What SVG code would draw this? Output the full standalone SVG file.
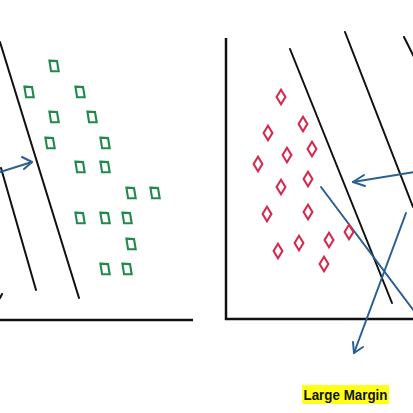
<svg xmlns="http://www.w3.org/2000/svg" xmlns:xlink="http://www.w3.org/1999/xlink" width="413" height="413" viewBox="0 0 413 413">
<style>
.blk{stroke:#111;stroke-width:2;fill:none;stroke-linecap:round}
.axis{stroke:#111;stroke-width:2.5;fill:none}
.blu{stroke:#2a5f93;stroke-width:2;fill:none;stroke-linecap:round;stroke-linejoin:round}
.sq{fill:none;stroke:#1f8a4c;stroke-width:2.1}
.dm{fill:none;stroke:#d42a50;stroke-width:2.1}
.lbl{font-family:"Liberation Sans",Arial,sans-serif;font-weight:bold;font-size:15px;fill:#111}
</style>
<defs>
<path id="sq" d="M-4.6,-5.4 L3,-4.9 L4.7,5.3 L-2.9,5.3 Z"/>
<path id="dm" d="M0,-7.2 L4.4,0 L0,7.2 L-4.4,0 Z"/>
</defs>
<rect width="413" height="413" fill="#fff"/>
<g id="axes">
<line class="axis" x1="0" y1="320" x2="193" y2="320"/>
<line class="axis" x1="226" y1="38" x2="226" y2="320"/>
<line class="axis" x1="225" y1="319" x2="413" y2="319"/>
</g>
<g id="connectors">
<line class="blk" x1="0" y1="42" x2="79" y2="298"/>
<line class="blk" x1="1" y1="168" x2="36" y2="290"/>
<path class="blk" d="M0,298 L2,294"/>
<line class="blk" x1="290" y1="49" x2="392" y2="303"/>
<line class="blk" x1="345" y1="32" x2="413" y2="207"/>
<line class="blk" x1="404" y1="37" x2="414" y2="57"/>
<line class="blu" x1="0" y1="172" x2="32" y2="162"/>
<polyline class="blu" points="22,157 32,162 24,169"/>
<line class="blu" x1="414" y1="172" x2="353" y2="182"/>
<polyline class="blu" points="364,175 353,182 365,186"/>
<line class="blu" x1="406" y1="213" x2="354" y2="353"/>
<polyline class="blu" points="353,342 354,353 363,347"/>
<line class="blu" x1="321" y1="187" x2="414" y2="311"/>
</g>
<g id="class-green">
<use href="#sq" class="sq" x="54" y="66"/>
<use href="#sq" class="sq" x="29" y="92"/>
<use href="#sq" class="sq" x="80" y="92"/>
<use href="#sq" class="sq" x="54" y="117"/>
<use href="#sq" class="sq" x="92" y="117"/>
<use href="#sq" class="sq" x="50" y="143"/>
<use href="#sq" class="sq" x="105" y="143"/>
<use href="#sq" class="sq" x="80" y="167"/>
<use href="#sq" class="sq" x="105" y="167"/>
<use href="#sq" class="sq" x="131" y="193"/>
<use href="#sq" class="sq" x="155" y="193"/>
<use href="#sq" class="sq" x="80" y="218"/>
<use href="#sq" class="sq" x="105" y="218"/>
<use href="#sq" class="sq" x="127" y="218"/>
<use href="#sq" class="sq" x="131" y="244"/>
<use href="#sq" class="sq" x="105" y="269"/>
<use href="#sq" class="sq" x="127" y="269"/>
</g>
<g id="class-red">
<use href="#dm" class="dm" x="281" y="97"/>
<use href="#dm" class="dm" x="303" y="124"/>
<use href="#dm" class="dm" x="268" y="133"/>
<use href="#dm" class="dm" x="312" y="149"/>
<use href="#dm" class="dm" x="287" y="155"/>
<use href="#dm" class="dm" x="258" y="164"/>
<use href="#dm" class="dm" x="308" y="179"/>
<use href="#dm" class="dm" x="281" y="187"/>
<use href="#dm" class="dm" x="267" y="214"/>
<use href="#dm" class="dm" x="308" y="212"/>
<use href="#dm" class="dm" x="349" y="232"/>
<use href="#dm" class="dm" x="329" y="240"/>
<use href="#dm" class="dm" x="299" y="243"/>
<use href="#dm" class="dm" x="278" y="251"/>
<use href="#dm" class="dm" x="324" y="264"/>
</g>
<g id="label-large-margin">
<rect x="302" y="385" width="87" height="19" fill="#ffff1a"/>
<text class="lbl" x="303.5" y="400" textLength="84" lengthAdjust="spacingAndGlyphs">Large Margin</text>
</g>
</svg>
